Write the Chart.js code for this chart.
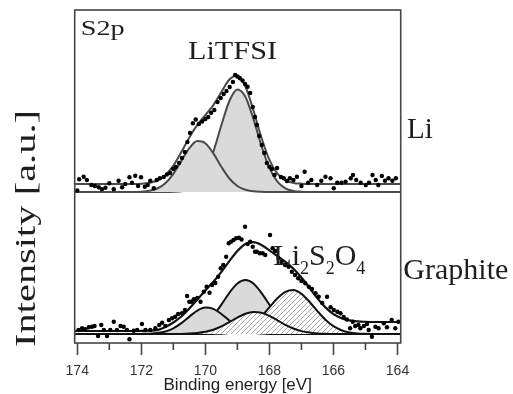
<!DOCTYPE html>
<html>
<head>
<meta charset="utf-8">
<script src="https://cdn.jsdelivr.net/npm/chart.js@4.4.1/dist/chart.umd.min.js"></script>
<style>
  body { margin: 0; background: #fff; }
  #wrap { width: 513px; height: 394px; }
</style>
</head>
<body>
<div id="wrap"><canvas id="xps" width="513" height="394"></canvas></div>
<script>
// binding energy grid (eV) used by the fitted curves
const energyGrid = [174.25, 174, 173.75, 173.5, 173.25, 173, 172.75, 172.5, 172.25, 172, 171.75, 171.5, 171.25, 171,
  170.75, 170.5, 170.25, 170, 169.75, 169.5, 169.25, 169, 168.75, 168.5, 168.25, 168, 167.75, 167.5, 167.25, 167,
  166.75, 166.5, 166.25, 166, 165.75, 165.5, 165.25, 165, 164.75, 164.5, 164.25, 164, 163.75];

// Li electrode (upper trace) - fit envelope and the two LiTFSI components
const liEnvelope = [159, 159, 159, 159, 159, 159, 159, 159, 159, 159.3, 160.2, 162.5, 167.8, 177.4,
  190.9, 205.6, 218.1, 227.8, 237.9, 250.9, 263.5, 267.6, 256.5, 232.8, 205.5, 183.1, 169.4, 162.7, 160.1, 159.3,
  159, 159, 159, 159, 159, 159, 159, 159, 159, 159, 159, 159, 159];
const liPeakA = [151, 151, 151, 151, 151, 151, 151, 151, 151, 151.3, 152.2, 154.5, 159.8, 169.2,
  182.1, 194.8, 201.9, 199.8, 189.6, 176.2, 164.5, 157.0, 153.2, 151.7, 151.2, 151, 151, 151, 151, 151,
  151, 151, 151, 151, 151, 151, 151, 151, 151, 151, 151, 151, 151];
const liPeakB = [151, 151, 151, 151, 151, 151, 151, 151, 151, 151, 151, 151, 151, 151.2,
  151.8, 153.8, 159.2, 171.0, 191.3, 217.7, 242.0, 253.6, 246.3, 224.1, 197.3, 175.1, 161.4, 154.7, 152.1, 151.3,
  151, 151, 151, 151, 151, 151, 151, 151, 151, 151, 151, 151, 151];

// Graphite electrode (lower trace) - envelope and four components
const grEnvelope = [12, 12, 12, 12, 12, 12, 12, 12, 12, 12.1, 12.3, 12.9, 16.0, 20.5,
  26.5, 34.5, 43.5, 52.5, 61.2, 71.2, 81.9, 92.0, 99.0, 100.9, 98.1, 92.7, 86.8, 81.1, 74.3, 65.5,
  55.1, 44.6, 35.6, 28.9, 24.8, 22.6, 21.6, 21.2, 21, 21, 21, 21, 21];
const grPeak1 = [9, 9, 9, 9, 9, 9, 9, 9, 9, 9.1, 9.3, 9.9, 11.5, 14.7,
  19.9, 26.4, 32.4, 35.4, 34.1, 29.0, 22.4, 16.6, 12.6, 10.4, 9.5, 9.1, 9, 9, 9, 9,
  9, 9, 9, 9, 9, 9, 9, 9, 9, 9, 9, 9, 9];
const grPeak2 = [9, 9, 9, 9, 9, 9, 9, 9, 9, 9, 9, 9, 9.1, 9.2,
  9.7, 11.0, 13.8, 19.0, 27.3, 38.4, 50.2, 59.5, 63.0, 59.5, 50.2, 38.4, 27.3, 19.0, 13.8, 11.0,
  9.7, 9.2, 9.1, 9, 9, 9, 9, 9, 9, 9, 9, 9, 9];
const grPeak3 = [9, 9, 9, 9, 9, 9, 9, 9, 9, 9, 9, 9, 9, 9,
  9.1, 9.4, 10.0, 11.2, 13.3, 16.6, 20.9, 25.4, 29.2, 31.0, 30.2, 27.1, 22.7, 18.2, 14.5, 11.9,
  10.4, 9.6, 9.2, 9.1, 9, 9, 9, 9, 9, 9, 9, 9, 9];
const grPeak4 = [9, 9, 9, 9, 9, 9, 9, 9, 9, 9, 9, 9, 9, 9,
  9, 9, 9, 9, 9.1, 9.3, 9.9, 11.3, 14.1, 19.1, 26.5, 35.7, 44.8, 51.2, 52.9, 49.1,
  41.3, 31.9, 23.3, 16.8, 12.8, 10.6, 9.6, 9.2, 9, 9, 9, 9, 9];

// measured points
const liDotsE = [174.00, 173.94, 173.80, 173.70, 173.56, 173.45, 173.33, 173.23, 173.12, 173.00, 172.86, 172.71,
  172.60, 172.50, 172.37, 172.29, 172.19, 172.10, 172.01, 171.89, 171.80, 171.72, 171.61, 171.52, 171.42, 171.30,
  171.20, 171.10, 171.00, 170.92, 170.82, 170.73, 170.64, 170.56, 170.48, 170.39, 170.30, 170.20, 170.10, 170.00,
  169.91, 169.82, 169.72, 169.62, 169.52, 169.43, 169.34, 169.24, 169.14, 169.07, 169.00, 168.92, 168.84, 168.76,
  168.68, 168.60, 168.52, 168.45, 168.39, 168.32, 168.24, 168.16, 168.08, 168.00, 167.92, 167.84, 167.76, 167.64,
  167.55, 167.45, 167.36, 167.25, 167.14, 167.00, 166.90, 166.79, 166.69, 166.51, 166.38, 166.25, 166.09, 165.99,
  165.88, 165.75, 165.62, 165.46, 165.39, 165.29, 165.15, 164.99, 164.89, 164.78, 164.68, 164.60, 164.49, 164.39,
  164.28, 164.16, 164.05];
const liDotsI = [152.5, 163.7, 166.3, 163, 158, 157, 155.7, 153.7, 155.3, 159.7, 153.7, 162.3,
  155.7, 159, 165.7, 160.3, 167.3, 157, 165.7, 156.3, 158, 162.3, 154.7, 163, 164.7, 166,
  168.5, 170, 174, 176, 180, 185, 191, 201, 210, 219.7, 223.5, 219, 221.5, 224,
  226, 230.3, 233, 241, 245, 249, 252, 256, 261, 268, 266.5, 264.7, 262.5, 259,
  256.3, 250, 236, 226, 218, 207, 198, 190, 180, 176.3, 174, 168, 175, 166,
  164.7, 162, 164.7, 163, 166.3, 157, 171.3, 160.3, 163, 158, 162.3, 166.3, 164.7, 154.7,
  160.3, 160.3, 161.3, 164.7, 168, 163, 160.3, 158, 160.3, 168, 163, 158, 167, 162.3,
  164.7, 162.3, 164.7];
const grDotsE = [173.96, 173.85, 173.75, 173.64, 173.54, 173.46, 173.35, 173.25, 173.17, 173.07, 172.97, 172.86,
  172.76, 172.65, 172.55, 172.45, 172.37, 172.24, 172.13, 171.98, 171.87, 171.72, 171.56, 171.44, 171.35, 171.25,
  171.14, 171.04, 170.94, 170.85, 170.73, 170.64, 170.57, 170.50, 170.43, 170.36, 170.25, 170.15, 170.05, 169.96,
  169.87, 169.79, 169.69, 169.60, 169.52, 169.44, 169.35, 169.27, 169.20, 169.12, 169.04, 168.95, 168.87, 168.76,
  168.68, 168.60, 168.52, 168.45, 168.39, 168.30, 168.21, 168.13, 167.98, 167.90, 167.82, 167.72, 167.62, 167.51,
  167.40, 167.30, 167.20, 167.10, 167.00, 166.88, 166.77, 166.67, 166.56, 166.46, 166.35, 166.20, 166.09, 165.99,
  165.88, 165.78, 165.68, 165.58, 165.48, 165.40, 165.32, 165.22, 165.16, 165.05, 164.95, 164.90, 164.80, 164.69,
  164.59, 164.43, 164.33, 164.18, 164.07, 163.97];
const grDotsI = [13, 14.7, 13.7, 15.7, 16.3, 17, 7, 18, 13, 7, 13, 21.3,
  13, 17, 16.3, 13, 3.7, 12.3, 13, 19, 13, 13, 14.7, 18, 20.3, 17,
  23, 24.7, 26.3, 29, 29.7, 33, 47, 41.3, 41.3, 43.7, 45, 41.3, 51.3, 56.3,
  50.3, 58, 60, 66.3, 74.7, 78, 86.3, 99.7, 101.3, 103, 104.7, 105.3, 103.5, 116.3,
  99, 101.3, 96.3, 91.3, 91.3, 89.7, 89.7, 88, 108, 94.7, 92, 85, 81, 78,
  76.3, 71.3, 68, 64.7, 62, 59.7, 56.3, 54, 49.7, 46.3, 40, 46.3, 35.7, 33,
  31.3, 29.7, 26, 23.5, 14.7, 21.3, 17, 18, 14.7, 17, 19, 13, 6.3, 16.3,
  14.7, 19.7, 15.7, 23, 14.7, 21.3];

const pts = (xs, ys) => xs.map((x, i) => ({x: x, y: ys[i]}));

function hatch() {
    const c = document.createElement('canvas');
    c.width = 5; c.height = 5;
    const g = c.getContext('2d');
    g.fillStyle = '#fff';
    g.fillRect(0, 0, 5, 5);
    g.strokeStyle = '#a8a8a8';
    g.lineWidth = 1;
    g.beginPath();
    g.moveTo(-1, 6); g.lineTo(6, -1);
    g.moveTo(-1, 1); g.lineTo(1, -1);
    g.moveTo(4, 6); g.lineTo(6, 4);
    g.stroke();
    return g.createPattern(c, 'repeat');
}
const hatchFill = hatch();

const upperLine = '#4a4a4a';
const lowerLine = '#111';
const shade = '#dadada';

function curve(data, color, fillTo, bg, order, width) {
    return {
        data: pts(energyGrid, data),
        showLine: true,
        borderColor: color,
        borderWidth: width || 2,
        pointRadius: 0,
        cubicInterpolationMode: 'monotone',
        fill: fillTo === null ? false : {value: fillTo},
        backgroundColor: bg || 'transparent',
        order: order
    };
}

function dots(xs, ys) {
    return {
        data: pts(xs, ys),
        showLine: false,
        pointRadius: 2.2,
        pointBackgroundColor: '#000',
        pointBorderWidth: 0,
        order: 0
    };
}

function stretchText(ctx, text, x, y, font, width) {
    ctx.font = font;
    const sx = width ? width / ctx.measureText(text).width : 1;
    ctx.save();
    ctx.translate(x, y);
    ctx.scale(sx, 1);
    ctx.fillText(text, 0, 0);
    ctx.restore();
}

const decorations = {
    id: 'decorations',
    afterDraw(chart) {
        const ctx = chart.ctx;
        const area = chart.chartArea;
        const xs = chart.scales.x;
        ctx.save();
        // frame
        ctx.strokeStyle = '#454545';
        ctx.lineWidth = 1.6;
        ctx.strokeRect(area.left, area.top, area.right - area.left, area.bottom - area.top);
        // minor ticks
        ctx.beginPath();
        [173, 171, 169, 167, 165].forEach(v => {
            const px = xs.getPixelForValue(v);
            ctx.moveTo(px, area.bottom);
            ctx.lineTo(px, area.bottom + 7);
        });
        ctx.stroke();

        ctx.fillStyle = '#1e1e1e';
        ctx.textAlign = 'left';
        ctx.textBaseline = 'alphabetic';
        const serif = '"Liberation Serif", "Times New Roman", serif';
        stretchText(ctx, 'S2p', 80.7, 35, '22px ' + serif, 44);
        stretchText(ctx, 'LiTFSI', 188, 59.3, '26px ' + serif, 89);
        stretchText(ctx, 'Li', 407, 138, '29px ' + serif, null);
        stretchText(ctx, 'Graphite', 403.3, 279, '29px ' + serif, 105);

        // Li2S2O4 with subscripts
        let x = 273.3;
        [['Li', 0], ['2', 1], ['S', 0], ['2', 1], ['O', 0], ['4', 1]].forEach(([t, sub]) => {
            ctx.font = (sub ? '18px ' : '30px ') + serif;
            ctx.fillText(t, x, sub ? 274 : 265);
            x += ctx.measureText(t).width;
        });

        // y axis title
        ctx.save();
        ctx.translate(35, 347);
        ctx.rotate(-Math.PI / 2);
        stretchText(ctx, 'Intensity [a.u.]', 0, 0, '29px ' + serif, 237);
        ctx.restore();
        ctx.restore();
    }
};

new Chart(document.getElementById('xps'), {
    type: 'scatter',
    data: {
        datasets: [
            dots(liDotsE, liDotsI),
            dots(grDotsE, grDotsI),
            curve(liEnvelope, upperLine, null, null, 1),
            curve(liPeakA, upperLine, 151, shade, 2),
            curve(liPeakB, upperLine, 151, shade, 3),
            curve(grEnvelope, lowerLine, null, null, 1, 2.2),
            curve(grPeak3, lowerLine, 9, hatchFill, 2),
            curve(grPeak4, lowerLine, 9, hatchFill, 3),
            curve(grPeak1, lowerLine, 9, shade, 4),
            curve(grPeak2, lowerLine, 9, shade, 5)
        ]
    },
    options: {
        responsive: false,
        animation: false,
        devicePixelRatio: 1,
        events: [],
        layout: {padding: {left: 74.7, right: 112.3, top: 10, bottom: 0}},
        plugins: {
            legend: {display: false},
            tooltip: {enabled: false}
        },
        scales: {
            x: {
                type: 'linear',
                reverse: true,
                min: 163.9,
                max: 174.08,
                border: {display: false},
                grid: {
                    drawOnChartArea: false,
                    drawTicks: true,
                    tickLength: 12,
                    tickWidth: 1.6,
                    tickColor: ctx => (ctx.tick && ctx.tick.value % 2 === 0) ? '#454545' : 'rgba(0,0,0,0)'
                },
                ticks: {
                    stepSize: 1,
                    includeBounds: false,
                    autoSkip: false,
                    maxRotation: 0,
                    padding: 8,
                    color: '#333',
                    font: {family: '"Liberation Sans", Arial, sans-serif', size: 14},
                    callback: v => (v % 2 === 0 ? String(v) : '')
                },
                title: {
                    display: true,
                    text: 'Binding energy [eV]',
                    color: '#222',
                    padding: {top: 0, bottom: -2},
                    font: {family: '"Liberation Sans", Arial, sans-serif', size: 17}
                },
                afterFit: scale => { scale.height = 51; }
            },
            y: {
                display: false,
                min: 0,
                max: 333
            }
        }
    },
    plugins: [decorations]
});
</script>
</body>
</html>
